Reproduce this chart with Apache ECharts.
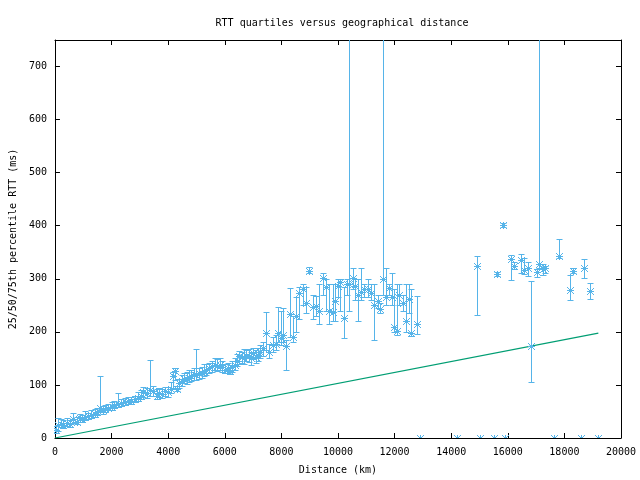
<!DOCTYPE html>
<html>
<head>
<meta charset="utf-8">
<script src="https://cdn.jsdelivr.net/npm/echarts@6/dist/echarts.min.js"></script>
<style>html,body{margin:0;padding:0;background:#fff}#c{width:640px;height:480px}</style>
</head>
<body>
<div id="c"></div>
<script>
// Distance (km) and RTT quartiles (ms)
var distKm = [30,100,200,300,420,520,650,780,880,950,1050,1180,1280,1420,1500,1600,1700,1780,1880,2000,2100,2240,2350,2480,2580,2700,2820,2950,3050,3120,3250,3360,3450,3590,3680,3770,3880,4000,4100,4180,4240,4300,4400,4480,4560,4650,4740,4820,4900,5000,5080,5180,5260,5350,5450,5560,5650,5740,5820,5900,6000,6100,6180,6260,6350,6440,6520,6600,6680,6760,6850,6940,7000,7090,7170,7260,7350,7460,7580,7700,7800,7880,7990,8060,8170,8290,8400,8520,8640,8760,8870,8990,9110,9230,9340,9460,9580,9690,9810,9890,10010,10080,10200,10320,10400,10520,10600,10690,10810,10930,11050,11160,11280,11400,11490,11590,11690,11810,11920,11980,12100,12160,12280,12390,12510,12570,12780,
  12898,14201,14905,15011,15504,15623,15822,15891,16103,16209,16479,16585,16701,16807,17018,17100,17240,17300,17617,17793,18215,18321,18602,18708,18919,19201];
var rttP50 = [15,24,27,25,28,26,35,31,38,36,40,41,44,46,49,56,52,55,57,59,62,64,66,67,70,70,73,76,80,86,84,91,88,80,84,83,88,86,92,117,126,92,104,107,112,112,114,117,120,119,123,123,127,129,131,135,138,136,138,133,129,131,127,133,138,146,154,152,151,155,154,150,160,152,157,162,169,197,163,175,178,197,188,194,174,233,191,229,273,280,255,315,246,249,240,301,284,240,237,259,287,294,227,291,290,302,287,270,276,280,280,274,251,258,244,300,266,282,266,210,201,270,254,220,262,197,215,
  0,0,324,0,0,309,402,0,337,325,336,316,320,173,312,328,318,320,0,343,279,315,0,321,277,0];
var rttP25 = [10,14,20,18,22,21,28,27,30,31,34,36,38,40,43,50,46,49,52,53,56,58,60,62,64,65,67,70,73,78,76,80,80,74,77,76,80,78,85,95,110,88,95,98,104,102,105,108,110,110,112,114,116,118,122,124,128,126,128,125,122,122,120,124,128,136,140,142,140,146,144,138,148,142,145,150,155,165,150,162,165,180,175,180,128,190,180,200,225,250,235,310,225,230,215,270,240,215,220,220,265,240,188,270,240,280,260,220,260,265,265,260,185,245,235,270,250,270,250,200,195,250,240,200,235,192,196,
  0,0,231,0,0,305,398,0,297,318,310,309,306,105,304,320,307,310,0,339,260,310,0,301,262,0];
var rttP75 = [22,37,35,33,38,34,47,40,45,43,50,48,52,55,57,117,60,62,64,68,70,84,74,76,78,78,80,86,90,96,94,147,98,92,95,92,97,96,105,125,132,98,112,118,122,125,128,128,132,168,132,134,140,140,142,145,150,148,150,145,140,142,138,145,150,158,164,162,168,166,168,162,170,165,170,175,180,237,178,190,195,247,240,245,185,282,230,265,285,290,285,322,270,268,290,310,300,290,290,290,300,300,285,300,1500,320,300,300,320,290,300,290,290,270,255,1500,320,290,310,280,290,290,270,290,290,280,268,
  0,0,343,0,0,313,406,0,345,332,346,340,331,296,318,1500,328,324,0,375,307,320,0,337,292,0];
// Reference line (green)
var lineDist = [0, 19200];
var lineRtt = [0, 197.5];

var FONT = 'DejaVu Sans Mono';
var BLUE = '#56B4E9';
var GREEN = '#009E73';

var errData = distKm.map(function (d, i) { return [d, rttP25[i], rttP50[i], rttP75[i]]; });
var lineData = lineDist.map(function (d, i) { return [d, lineRtt[i]]; });

function renderItem(params, api) {
  var x = api.value(0), lo = api.value(1), med = api.value(2), hi = api.value(3);
  var pLo = api.coord([x, lo]), pHi = api.coord([x, hi]), pM = api.coord([x, med]);
  var cx = Math.round(pM[0]) + 0.5, cy = Math.round(pM[1]) + 0.5;
  var st = { stroke: BLUE, lineWidth: 1, fill: null };
  var ch = [];
  if (hi > lo) {
    var yl = Math.round(pLo[1]) + 0.5, yh = Math.round(pHi[1]) + 0.5;
    ch.push({ type: 'line', shape: { x1: cx, y1: yl, x2: cx, y2: yh }, style: st });
    ch.push({ type: 'line', shape: { x1: cx - 3, y1: yl, x2: cx + 3, y2: yl }, style: st });
    ch.push({ type: 'line', shape: { x1: cx - 3, y1: yh, x2: cx + 3, y2: yh }, style: st });
  }
  var s = 3.5;
  ch.push({ type: 'line', shape: { x1: cx - s, y1: cy, x2: cx + s, y2: cy }, style: st });
  ch.push({ type: 'line', shape: { x1: cx, y1: cy - s, x2: cx, y2: cy + s }, style: st });
  ch.push({ type: 'line', shape: { x1: cx - s, y1: cy - s, x2: cx + s, y2: cy + s }, style: st });
  ch.push({ type: 'line', shape: { x1: cx - s, y1: cy + s, x2: cx + s, y2: cy - s }, style: st });
  return { type: 'group', children: ch };
}

var axisCommon = {
  type: 'value',
  axisLine: { show: true, onZero: false, lineStyle: { color: '#000', width: 1 } },
  axisTick: { show: true, inside: true, length: 5, lineStyle: { color: '#000' } },
  splitLine: { show: false }
};
function plain(v) { return String(v); }

var chart = echarts.init(document.getElementById('c'), null, { renderer: 'canvas' });
chart.setOption({
  animation: false,
  backgroundColor: '#fff',
  title: {
    text: 'RTT quartiles versus geographical distance',
    left: 337, top: 13, textAlign: 'center',
    textStyle: { fontFamily: FONT, fontSize: 10, fontWeight: 'normal', color: '#000' }
  },
  grid: { left: 53, right: 19, top: 40, bottom: 42 },
  xAxis: [
    Object.assign({}, axisCommon, {
      position: 'bottom', min: 0, max: 20000, interval: 2000,
      name: 'Distance (km)', nameLocation: 'middle', nameGap: 27,
      nameTextStyle: { fontFamily: FONT, fontSize: 10, color: '#000' },
      axisLabel: { fontFamily: FONT, fontSize: 10, color: '#000', margin: 9, formatter: plain }
    }),
    Object.assign({}, axisCommon, {
      position: 'top', min: 0, max: 20000, interval: 2000,
      axisLabel: { show: false }
    })
  ],
  yAxis: [
    Object.assign({}, axisCommon, {
      position: 'left', min: 0, max: 750, interval: 100,
      name: '25/50/75th percentile RTT (ms)', nameLocation: 'middle', nameGap: 36,
      nameTextStyle: { fontFamily: FONT, fontSize: 10, color: '#000' },
      axisLabel: { fontFamily: FONT, fontSize: 10, color: '#000', margin: 8, showMaxLabel: false, formatter: plain }
    }),
    Object.assign({}, axisCommon, {
      position: 'right', min: 0, max: 750, interval: 100,
      axisLabel: { show: false }
    })
  ],
  series: [
    {
      type: 'line', xAxisIndex: 0, yAxisIndex: 0, data: lineData,
      showSymbol: false, symbol: 'none',
      lineStyle: { color: GREEN, width: 1.2 }, z: 2
    },
    {
      type: 'custom', xAxisIndex: 0, yAxisIndex: 0, clip: true,
      renderItem: renderItem, data: errData, z: 3,
      encode: { x: 0, y: [1, 2, 3] }
    }
  ]
});
</script>
</body>
</html>
